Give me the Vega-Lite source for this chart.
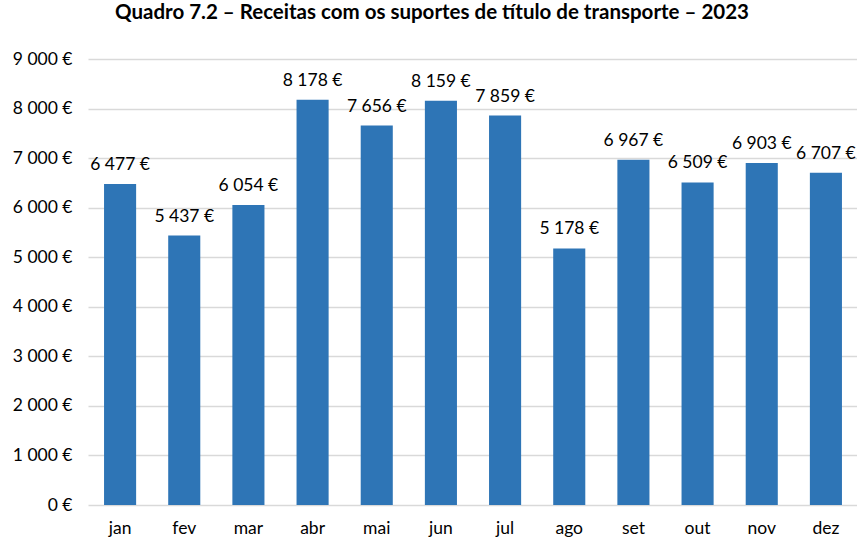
{
  "$schema": "https://vega.github.io/schema/vega-lite/v6.json",
  "width": 770,
  "height": 446,
  "autosize": "none",
  "padding": {"left": 88, "top": 59, "right": 0, "bottom": 35},
  "background": "white",
  "title": {
    "text": "Quadro 7.2 – Receitas com os suportes de título de transporte – 2023",
    "font": "Lato",
    "fontSize": 20.5,
    "fontWeight": "bold",
    "color": "black",
    "anchor": "middle",
    "frame": "group",
    "dx": -41,
    "offset": 27
  },
  "config": {
    "view": {"stroke": null},
    "font": "Lato"
  },
  "data": {
    "values": [
      {"mes": "jan", "valor": 6477},
      {"mes": "fev", "valor": 5437},
      {"mes": "mar", "valor": 6054},
      {"mes": "abr", "valor": 8178},
      {"mes": "mai", "valor": 7656},
      {"mes": "jun", "valor": 8159},
      {"mes": "jul", "valor": 7859},
      {"mes": "ago", "valor": 5178},
      {"mes": "set", "valor": 6967},
      {"mes": "out", "valor": 6509},
      {"mes": "nov", "valor": 6903},
      {"mes": "dez", "valor": 6707}
    ]
  },
  "encoding": {
    "x": {
      "field": "mes",
      "type": "nominal",
      "sort": null,
      "scale": {"paddingInner": 0.5, "paddingOuter": 0.25},
      "axis": {
        "title": null,
        "labelAngle": 0,
        "labelFontSize": 17.5,
        "labelColor": "black",
        "labelFont": "Lato",
        "domain": false,
        "ticks": false,
        "labelPadding": 14
      }
    },
    "y": {
      "field": "valor",
      "type": "quantitative",
      "scale": {"domain": [0, 9000]},
      "axis": {
        "title": null,
        "values": [0, 1000, 2000, 3000, 4000, 5000, 6000, 7000, 8000, 9000],
        "labelExpr": "replace(format(datum.value, ',d'), ',', ' ') + ' €'",
        "labelFontSize": 17.5,
        "labelColor": "black",
        "labelFont": "Lato",
        "labelPadding": 16,
        "domain": false,
        "ticks": false,
        "gridColor": "#d9d9d9",
        "gridWidth": 1.3
      }
    }
  },
  "layer": [
    {"mark": {"type": "bar", "color": "#2E75B6"}},
    {
      "mark": {"type": "text", "baseline": "bottom", "dy": -10, "fontSize": 17.5, "color": "black", "font": "Lato"},
      "encoding": {
        "text": {"field": "label"}
      },
      "transform": [
        {"calculate": "replace(format(datum.valor, ',d'), ',', ' ') + ' €'", "as": "label"}
      ]
    }
  ]
}
